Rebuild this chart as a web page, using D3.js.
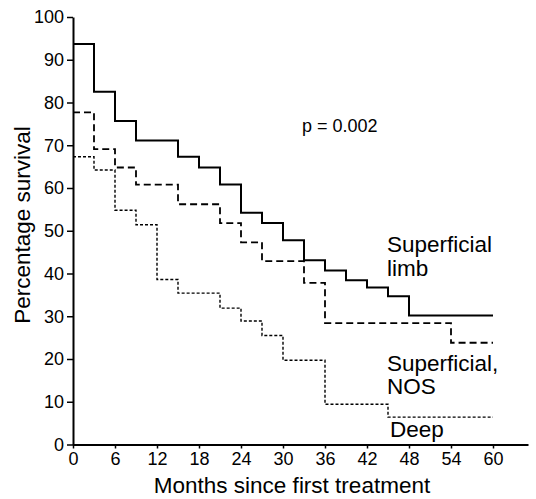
<!DOCTYPE html>
<html><head><meta charset="utf-8">
<script src="https://cdn.jsdelivr.net/npm/d3@7"></script>
<style>
html,body{margin:0;padding:0;background:#fff;}
svg{display:block;font-family:"Liberation Sans",Arial,Helvetica,sans-serif;}
</style></head>
<body>
<svg id="chart" width="536" height="499"></svg>
<script>
// Data
const xTicks = [0, 6, 12, 18, 24, 30, 36, 42, 48, 54, 60];
const yTicks = [0, 10, 20, 30, 40, 50, 60, 70, 80, 90, 100];

const limbMonths = [0, 3, 6, 9, 15, 18, 21, 24, 27, 30, 33, 36, 39, 42, 45, 48, 60];
const limbSurv   = [93.7, 82.5, 75.7, 71.1, 67.3, 64.8, 60.8, 54.2, 51.8, 47.8, 43.1, 40.7, 38.4, 36.7, 34.7, 30.2, 30.2];

const nosMonths = [0, 3, 6, 9, 15, 21, 24, 27, 33, 36, 54, 60];
const nosSurv   = [77.7, 69.1, 64.8, 60.8, 56.2, 51.8, 47.3, 42.9, 37.8, 28.4, 23.8, 23.8];

const deepMonths = [0, 3, 6, 9, 12, 15, 21, 24, 27, 30, 36, 45, 60];
const deepSurv   = [67.3, 64.2, 54.8, 51.4, 38.6, 35.4, 31.9, 28.9, 25.5, 19.7, 9.4, 6.4, 6.4];

const svg = d3.select("#chart");
const x = d3.scaleLinear().domain([0, 65]).range([73, 528]);
const y = d3.scaleLinear().domain([0, 100]).range([444.5, 17]);

// axes
const xAxis = d3.axisBottom(x).tickValues(xTicks).tickSize(4).tickSizeOuter(0).tickPadding(4);
const gx = svg.append("g").attr("transform", `translate(0,${y(0)})`).call(xAxis);
gx.select(".domain").attr("stroke", "#000").attr("stroke-width", 2);
gx.selectAll(".tick line").attr("stroke", "#000").attr("stroke-width", 1.5);
gx.selectAll(".tick text").attr("font-size", 18).attr("fill", "#000")
  .attr("font-family", "Liberation Sans, Arial, sans-serif");

const yAxis = d3.axisLeft(y).tickValues(yTicks).tickSize(6).tickSizeOuter(0).tickPadding(3);
const gy = svg.append("g").attr("transform", `translate(${x(0)},0)`).call(yAxis);
gy.select(".domain").attr("stroke", "#000").attr("stroke-width", 2);
gy.selectAll(".tick line").attr("stroke", "#000").attr("stroke-width", 1.5);
gy.selectAll(".tick text").attr("font-size", 18).attr("fill", "#000")
  .attr("font-family", "Liberation Sans, Arial, sans-serif");

// axis titles
svg.append("text").attr("x", 292).attr("y", 493)
  .attr("text-anchor", "middle").attr("font-size", 22.5).attr("fill", "#000")
  .text("Months since first treatment");
svg.append("text").attr("transform", "translate(30,225) rotate(-90)")
  .attr("text-anchor", "middle").attr("font-size", 22.5).attr("fill", "#000")
  .text("Percentage survival");

// curves
const line = d3.line().x(d => x(d[0])).y(d => y(d[1])).curve(d3.curveStepAfter);
const series = [
  {m: limbMonths, s: limbSurv, dash: null, w: 2},
  {m: nosMonths, s: nosSurv, dash: "7,4", w: 1.8},
  {m: deepMonths, s: deepSurv, dash: "3,2", w: 1.4}
];
series.forEach(sr => {
  const pts = sr.m.map((mm, i) => [mm, sr.s[i]]);
  svg.append("path").datum(pts).attr("d", line)
    .attr("fill", "none").attr("stroke", "#000").attr("stroke-width", sr.w)
    .attr("stroke-dasharray", sr.dash);
});

// annotations
const ann = [
  {t: "p = 0.002", x: 302, y: 132, s: 18},
  {t: "Superficial", x: 387, y: 252, s: 22.5},
  {t: "limb", x: 387, y: 276, s: 22.5},
  {t: "Superficial,", x: 387, y: 371, s: 22.5},
  {t: "NOS", x: 387, y: 394, s: 22.5},
  {t: "Deep", x: 390, y: 437, s: 22.5}
];
ann.forEach(a => svg.append("text").attr("x", a.x).attr("y", a.y)
  .attr("font-size", a.s).attr("fill", "#000").text(a.t));
</script>
</body></html>
